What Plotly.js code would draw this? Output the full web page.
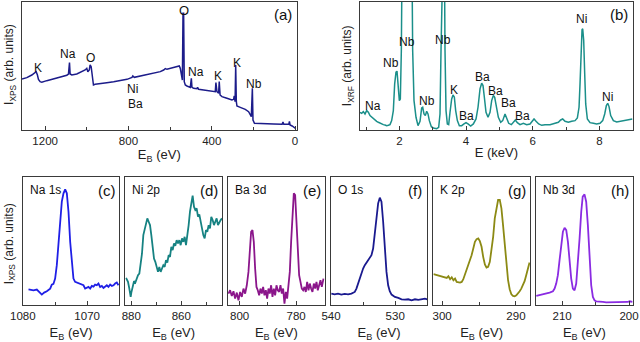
<!DOCTYPE html>
<html>
<head>
<meta charset="utf-8">
<script src="https://cdn.plot.ly/plotly-3.0.1.min.js"></script>
<style>
  html, body { margin: 0; padding: 0; background: #fff; }
  #fig { width: 640px; height: 342px; }
</style>
</head>
<body>
<div id="fig"></div>
<script>
// ############################################################### - data
// (a) XPS survey
var surveyE = [1311, 1288, 1264, 1251, 1243, 1237, 1232, 1224, 1216, 1192, 1160, 1128, 1096, 1088, 1083, 1080, 1072, 1048, 1016, 1008,
    1000, 995, 988, 984, 979, 972, 968, 960, 936, 904, 871, 839, 807, 783, 779, 772, 743, 711, 679, 647,
    631, 623, 615, 599, 583, 567, 556, 551, 546, 541, 538, 535, 532, 527, 519, 503, 498, 495, 487, 471,
    468, 463, 439, 407, 383, 380, 375, 367, 364, 360, 351, 327, 303, 295, 292, 288, 285, 282, 279, 263,
    239, 223, 215, 210, 205, 202, 195, 167, 135, 103, 62, 58, 54, 30, 27, 24, 14, 6, -2];
var surveyI = [153, 157, 165, 172, 175, 165, 152, 145, 143, 148, 153, 158, 164, 168, 202, 168, 165, 168, 176, 180,
    185, 175, 180, 195, 190, 155, 135, 137, 140, 142, 145, 148, 152, 158, 162, 158, 162, 166, 170, 175,
    180, 184, 182, 185, 187, 190, 192, 185, 160, 150, 350, 350, 145, 135, 132, 128, 155, 128, 125, 124,
    128, 122, 120, 118, 115, 142, 115, 110, 145, 105, 100, 95, 90, 92, 102, 85, 195, 85, 72, 68,
    62, 55, 45, 40, 125, 30, 20, 20, 19, 18, 17, 24, 17, 17, 26, 15, 12, 8, 5];

// (b) XRF
var xrfE = [0.82, 0.87, 0.92, 0.97, 1.02, 1.07, 1.12, 1.17, 1.22, 1.27, 1.32, 1.37, 1.42, 1.47, 1.52, 1.57, 1.62, 1.67, 1.72, 1.77,
    1.82, 1.86, 1.90, 1.93, 1.96, 2.00, 2.03, 2.06, 2.08, 2.12, 2.24, 2.34, 2.38, 2.40, 2.44, 2.50, 2.56, 2.62, 2.67, 2.70,
    2.74, 2.78, 2.82, 2.86, 2.90, 2.96, 3.02, 3.12, 3.18, 3.22, 3.25, 3.28, 3.34, 3.37, 3.40, 3.44, 3.48, 3.52, 3.57, 3.61,
    3.65, 3.69, 3.74, 3.80, 3.87, 3.94, 4.00, 4.06, 4.14, 4.22, 4.30, 4.36, 4.42, 4.47, 4.51, 4.55, 4.60, 4.66, 4.72, 4.77,
    4.82, 4.86, 4.91, 4.97, 5.04, 5.10, 5.17, 5.22, 5.28, 5.36, 5.42, 5.48, 5.54, 5.62, 5.72, 5.82, 5.92, 5.99, 6.04, 6.10,
    6.18, 6.27, 6.37, 6.52, 6.67, 6.77, 6.84, 6.90, 6.97, 7.07, 7.17, 7.27, 7.34, 7.39, 7.42, 7.45, 7.48, 7.50, 7.53, 7.56,
    7.59, 7.64, 7.72, 7.82, 7.92, 8.02, 8.10, 8.16, 8.21, 8.25, 8.29, 8.34, 8.42, 8.52, 8.62, 8.74, 8.87, 8.99];
var xrfI = [53, 50, 55, 48, 58, 53, 43, 38, 33, 30, 26, 23, 20, 18, 16, 15, 13, 14, 16, 28,
    58, 138, 173, 176, 128, 88, 93, 238, 488, 788, 888, 788, 488, 238, 88, 38, 13, 26, 66, 68,
    48, 43, 56, 48, 28, 10, 6, 4, 8, 48, 238, 688, 688, 238, 58, 18, 16, 53, 93, 105,
    98, 58, 28, 13, 13, 18, 22, 18, 12, 18, 33, 68, 123, 140, 133, 98, 53, 38, 53, 88,
    103, 98, 68, 38, 23, 28, 48, 36, 20, 16, 24, 30, 22, 16, 20, 16, 18, 28, 33, 26,
    18, 14, 16, 16, 19, 23, 30, 33, 26, 23, 26, 28, 36, 68, 138, 238, 300, 303, 268, 168,
    78, 33, 22, 20, 18, 20, 28, 48, 73, 80, 70, 43, 28, 24, 26, 28, 30, 33];

// (c) Na 1s
var naE = [1079.12, 1078.35, 1077.83, 1077.31, 1077.05, 1076.69, 1076.27, 1075.75, 1075.50, 1075.24, 1074.98, 1074.72, 1074.46, 1074.20, 1073.94, 1073.68,
    1073.42, 1073.16, 1072.90, 1072.64, 1072.38, 1072.13, 1071.87, 1071.61, 1071.35, 1071.09, 1070.57, 1070.31, 1070.05, 1069.79, 1069.53, 1069.27,
    1069.02, 1068.76, 1068.50, 1068.24, 1067.98, 1067.72, 1067.46, 1067.20, 1066.94, 1066.68, 1066.42, 1066.16, 1065.90, 1065.65, 1065.39, 1065.13];
var naI = [48, 45, 47, 38, 32, 38, 42, 50, 62, 64, 80, 120, 190, 260, 310, 335,
    347, 335, 280, 190, 120, 80, 70, 68, 65, 62, 60, 50, 52, 55, 50, 58,
    56, 62, 60, 65, 55, 58, 52, 57, 60, 55, 62, 58, 60, 65, 68, 60];

// (d) Ni 2p
var niE = [882.12, 881.32, 880.79, 880.25, 879.99, 879.45, 878.92, 878.39, 877.85, 877.32, 876.79, 876.25, 875.72, 875.19, 874.65, 874.12, 873.59, 873.05, 872.52, 871.99,
    871.45, 870.92, 870.39, 869.85, 869.32, 868.79, 868.25, 867.72, 867.19, 866.65, 866.12, 865.59, 865.05, 864.52, 863.99, 863.45, 862.92, 862.39, 861.85, 861.32,
    860.79, 860.25, 859.72, 859.19, 858.65, 858.12, 857.59, 857.05, 856.52, 855.99, 855.45, 854.92, 854.39, 853.85, 853.32, 852.79, 852.25, 851.72, 851.19, 850.65,
    850.12, 849.59, 849.05, 848.52, 847.99, 847.45, 846.92, 846.39, 845.85, 845.32, 844.79, 844.25, 843.72];
var niI = [82, 70, 50, 25, 38, 60, 72, 68, 80, 90, 95, 120, 155, 210, 230, 245, 260, 250, 240, 210,
    170, 140, 130, 115, 100, 115, 100, 110, 120, 115, 135, 128, 150, 145, 175, 165, 185, 178, 195, 185,
    195, 180, 200, 190, 205, 180, 205, 240, 280, 310, 328, 295, 285, 290, 265, 272, 250, 225, 210, 200,
    225, 220, 240, 230, 265, 255, 240, 250, 260, 240, 250, 255, 260];

// (e) Ba 3d
var baE = [803.95, 803.36, 802.77, 802.18, 801.59, 801.00, 800.41, 799.82, 799.23, 798.64, 798.05, 797.46, 796.87, 796.40, 795.93, 795.45, 794.98, 794.51, 794.04, 793.57,
    793.09, 792.62, 792.15, 791.68, 791.21, 790.73, 790.26, 789.79, 789.32, 788.85, 788.37, 787.90, 787.43, 786.96, 786.49, 786.01, 785.54, 785.07, 784.60, 784.13,
    783.66, 783.18, 782.71, 782.24, 781.77, 781.30, 780.82, 780.35, 779.88, 779.41, 778.94, 778.46, 777.99, 777.52, 777.05, 776.58, 776.10, 775.63, 775.16, 774.69,
    774.22, 773.74, 773.27, 772.80, 772.33, 771.86, 771.38, 770.91, 770.32];
var baI = [35, 45, 28, 42, 20, 38, 15, 40, 25, 50, 35, 60, 100, 170, 220, 225, 190, 110, 55, 45,
    30, 50, 35, 55, 30, 45, 20, 50, 35, 60, 25, 50, 30, 60, 45, 40, 60, 35, 50, 5,
    40, 20, 60, 100, 190, 280, 335, 330, 240, 130, 90, 70, 50, 45, 55, 40, 70, 45, 65, 50,
    40, 65, 50, 70, 45, 60, 75, 55, 80];

// (f) O 1s
var oE = [539.95, 539.43, 538.91, 538.39, 537.87, 537.34, 536.82, 536.30, 536.04, 535.78, 535.52, 535.26, 535.00, 534.74, 534.48, 534.22, 533.96, 533.70, 533.44, 533.18,
    532.92, 532.66, 532.40, 532.14, 531.88, 531.62, 531.36, 531.10, 530.85, 530.57, 530.05, 529.53, 529.01, 528.49, 527.97, 527.45, 526.93, 526.41, 525.89, 525.37, 525.00];
var oI = [35, 33, 35, 32, 34, 33, 35, 40, 50, 65, 85, 100, 110, 120, 128, 135, 140, 150, 170, 210,
    260, 305, 322, 310, 250, 170, 100, 60, 42, 32, 25, 22, 18, 17, 18, 15, 18, 16, 18, 20, 18];

// (g) K 2p
var kE = [301.17, 300.72, 300.27, 299.82, 299.37, 299.15, 298.92, 298.70, 298.47, 298.25, 298.03, 297.58, 297.35, 297.13, 296.90, 296.68, 296.46, 296.23, 296.01, 295.78,
    295.56, 295.33, 295.11, 294.89, 294.66, 294.44, 294.21, 293.99, 293.77, 293.54, 293.32, 293.09, 292.87, 292.64, 292.42, 292.19, 291.97, 291.75, 291.52, 291.30,
    291.07, 290.85, 290.62, 290.40, 290.18, 289.95, 289.73, 289.50, 289.28, 289.05, 288.83, 288.61, 288.38, 288.16];
var kI = [93, 90, 88, 85, 82, 87, 78, 84, 75, 80, 70, 68, 70, 78, 92, 105, 118, 132, 150, 170,
    190, 198, 200, 192, 175, 145, 122, 113, 115, 130, 160, 205, 260, 295, 315, 315, 290, 240, 180, 120,
    75, 48, 33, 28, 27, 30, 35, 42, 50, 60, 72, 90, 110, 128];

// (h) Nb 3d
var nbE = [213.86, 213.36, 212.87, 212.37, 211.87, 211.37, 211.12, 210.88, 210.63, 210.38, 210.13, 209.88, 209.63, 209.38, 209.13, 208.89, 208.64, 208.39, 208.14, 207.89,
    207.64, 207.39, 207.14, 206.92, 206.65, 206.40, 206.15, 205.90, 205.65, 205.40, 205.15, 204.91, 204.41, 203.91, 203.41, 202.92, 202.42, 201.92, 201.42, 200.93,
    200.43, 200.18, 199.93, 199.48];
var nbI = [28, 30, 32, 35, 38, 42, 50, 65, 90, 135, 185, 220, 232, 225, 190, 130, 80, 50, 45, 65,
    120, 200, 280, 325, 332, 310, 240, 140, 60, 25, 15, 12, 10, 10, 9, 9, 9, 8, 9, 8,
    9, 10, 12, 10];

// ############################################################### - helpers
var FONT = 'Liberation Sans, Arial, sans-serif';
var FRAME = '#3a3a3a';

function line(x, y, n, color, w) {
    return {
        x: x, y: y, xaxis: 'x' + n, yaxis: 'y' + n,
        type: 'scatter', mode: 'lines', showlegend: false, hoverinfo: 'skip',
        line: { color: color, width: w || 1.8 }
    };
}

function xAxis(n, domain, range, dtick, minor, title, standoff) {
    return {
        domain: domain, range: range, anchor: 'y' + n,
        showline: true, mirror: true, linecolor: FRAME, linewidth: 1,
        showgrid: false, zeroline: false,
        ticks: 'inside', ticklen: 4, tickcolor: FRAME, dtick: dtick, tick0: 0,
        minor: { dtick: minor, ticks: 'inside', ticklen: 3, tickcolor: FRAME, showgrid: false },
        tickfont: { family: FONT, size: 11.5, color: '#222' },
        title: { text: title, font: { family: FONT, size: 13, color: '#222' }, standoff: standoff }
    };
}

function yAxis(n, domain, range) {
    return {
        domain: domain, range: range, anchor: 'x' + n,
        showline: true, mirror: true, linecolor: FRAME, linewidth: 1,
        showgrid: false, zeroline: false, showticklabels: false, ticks: ''
    };
}

function note(text, x, y, n, size) {
    return {
        text: text, x: x, y: y, xref: 'x' + n, yref: 'y' + n,
        showarrow: false, xanchor: 'center', yanchor: 'middle',
        font: { family: FONT, size: size || 12, color: '#111' }
    };
}

function corner(text, n, left) {
    return {
        text: text, x: left ? 0.05 : 0.87, y: 0.9,
        xref: 'x' + n + ' domain', yref: 'y' + n + ' domain',
        showarrow: false, xanchor: left ? 'left' : 'center', yanchor: 'middle',
        font: { family: FONT, size: left ? 12 : 15, color: '#111' }
    };
}

function ytitle(text, x, y) {
    return {
        text: text, x: x, y: y, xref: 'paper', yref: 'paper', textangle: -90,
        showarrow: false, xanchor: 'center', yanchor: 'middle',
        font: { family: FONT, size: 12, color: '#222' }
    };
}

// ############################################################### - traces
var data = [
    line(surveyE, surveyI, '', '#1c1c8a', 1.5),
    line(xrfE, xrfI, 2, '#1b8f8a', 1.5),
    line(naE, naI, 3, '#1f1fe6'),
    line(niE, niI, 4, '#168282'),
    line(baE, baI, 5, '#8b168b'),
    line(oE, oI, 6, '#1a1a8f'),
    line(kE, kI, 7, '#8c8a14'),
    line(nbE, nbI, 8, '#8a2be2')
];

var topY = [0.6199, 0.9942];
var botY = [0.1073, 0.4816];
var EB = 'E<sub>B</sub> (eV)';

var layout = {
    width: 640, height: 342,
    margin: { l: 0, r: 0, t: 0, b: 0 },
    paper_bgcolor: '#fff', plot_bgcolor: '#fff',
    xaxis: xAxis('', [0.0344, 0.4633], [1311, -7], 400, 200, EB, 2),
    yaxis: yAxis('', topY, [0, 384]),
    xaxis2: xAxis(2, [0.5625, 0.9886], [0.82, 9.0], 2, 1, 'E (keV)', 2),
    yaxis2: yAxis(2, topY, [0, 383]),
    xaxis3: xAxis(3, [0.0355, 0.1864], [1080.02, 1065], 10, 5, EB, 9),
    yaxis3: yAxis(3, botY, [0, 383]),
    xaxis4: xAxis(4, [0.1958, 0.3469], [882.4, 843.7], 20, 10, EB, 9),
    yaxis4: yAxis(4, botY, [0, 383]),
    xaxis5: xAxis(5, [0.3563, 0.5073], [804.1, 769.9], 20, 10, EB, 9),
    yaxis5: yAxis(5, botY, [0, 383]),
    xaxis6: xAxis(6, [0.5167, 0.6677], [540.05, 525], 10, 5, EB, 9),
    yaxis6: yAxis(6, botY, [0, 383]),
    xaxis7: xAxis(7, [0.6770, 0.8281], [301.2, 288.1], 10, 5, EB, 9),
    yaxis7: yAxis(7, botY, [0, 383]),
    xaxis8: xAxis(8, [0.8375, 0.9886], [213.9, 199.45], 10, 5, EB, 9),
    yaxis8: yAxis(8, botY, [0, 383]),
    annotations: [
        // survey peak labels
        note('K', 1235, 185, ''), note('Na', 1088, 227, ''), note('O', 984, 215, ''),
        note('Ni', 779, 122, ''), note('Ba', 767, 78, ''), note('O', 533, 357, '', 13),
        note('Na', 476, 175, ''), note('K', 372, 162, ''), note('K', 279, 202, ''),
        note('Nb', 195, 137, ''),
        // XRF labels
        note('Na', 1.20, 73, 2), note('Nb', 1.74, 201, 2), note('Nb', 2.24, 263, 2),
        note('Nb', 2.84, 88, 2), note('Nb', 3.30, 268, 2), note('K', 3.65, 120, 2),
        note('Ba', 4.02, 41, 2), note('Ba', 4.49, 158, 2), note('Ba', 4.89, 118, 2),
        note('Ba', 5.27, 81, 2), note('Ba', 5.68, 43, 2), note('Ni', 7.47, 331, 2),
        note('Ni', 8.24, 98, 2),
        // panel letters
        corner('(a)', '', false), corner('(b)', 2, false),
        corner('(c)', 3, false), corner('(d)', 4, false), corner('(e)', 5, false),
        corner('(f)', 6, false), corner('(g)', 7, false), corner('(h)', 8, false),
        corner('Na 1s', 3, true), corner('Ni 2p', 4, true), corner('Ba 3d', 5, true),
        corner('O 1s', 6, true), corner('K 2p', 7, true), corner('Nb 3d', 8, true),
        // y titles
        ytitle('I<sub>XPS</sub> (arb. units)', 0.0156, 0.813),
        ytitle('I<sub>XRF</sub> (arb. units)', 0.544, 0.807),
        ytitle('I<sub>XPS</sub> (arb. units)', 0.0156, 0.289)
    ]
};

// (a) and (b) letters sit a bit further right
layout.annotations.forEach(function (a) {
    if (a.text === '(a)' || a.text === '(b)') { a.x = 0.95; a.y = 0.906; }
});

Plotly.newPlot('fig', data, layout, { staticPlot: true, displayModeBar: false });
</script>
</body>
</html>
